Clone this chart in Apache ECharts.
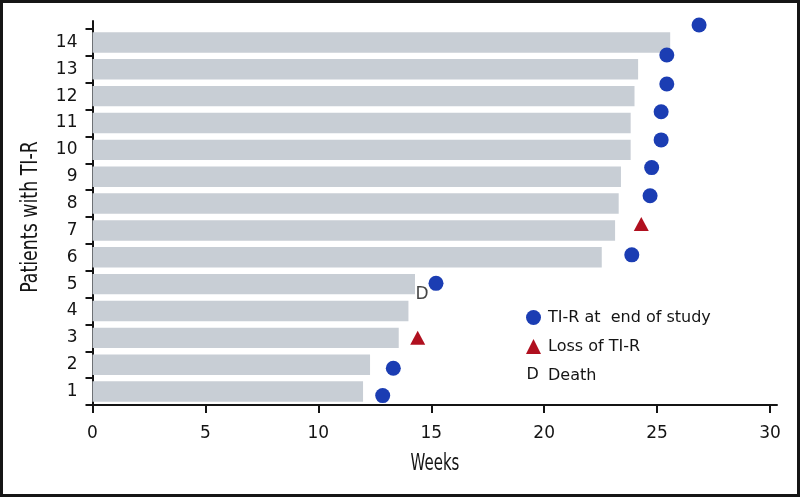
<!DOCTYPE html>
<html>
<head>
<meta charset="utf-8">
<script src="https://cdn.jsdelivr.net/npm/echarts@6/dist/echarts.min.js"></script>
<style>
  html, body { margin: 0; padding: 0; background: #fff; }
  #wrap { position: relative; width: 800px; height: 497px; }
  #chart { position: absolute; left: 0; top: 0; width: 800px; height: 497px; }
  #frame { position: absolute; left: 0; top: 0; width: 800px; height: 497px; box-sizing: border-box; border: 3px solid #161616; pointer-events: none; }
</style>
</head>
<body>
<div id="wrap"><div id="chart"></div><div id="frame"></div></div>
<script>
// ---- data ----
const patients = ['1','2','3','4','5','6','7','8','9','10','11','12','13','14'];
const barWeeks = [11.98, 12.29, 13.56, 13.99, 14.28, 22.55, 23.14, 23.3, 23.4, 23.83, 23.83, 24.0, 24.16, 25.58];

// TI-R at end of study (week, vertical position in patient units)
const endWeeks = [12.85, 13.32, 15.21, 23.88, 24.69, 24.76, 25.18, 25.18, 25.43, 25.43, 26.86];
const endPos   = [0.85, 1.87, 5.03, 6.09, 8.29, 9.34, 10.37, 11.42, 12.45, 13.53, 14.65];

// Loss of TI-R
const lossWeeks = [14.4, 24.3];
const lossPos   = [3.0, 7.24];

// Death
const deathWeeks = [14.59];
const deathPos   = [4.63];

const xTicks = [0, 5, 10, 15, 20, 25, 30];

const seriesNames = ['TI-R at  end of study', 'Loss of TI-R', 'Death'];
const xTitle = 'Weeks';
const yTitle = 'Patients with TI-R';

const toPairs = (xs, ys) => xs.map((x, i) => [x, ys[i]]);

const axisColor = '#141414';
const textColor = '#141414';
const sansFont = 'DejaVu Sans';
const narrowFont = '"DejaVu Sans Condensed", "DejaVu Sans", sans-serif';

const chart = echarts.init(document.getElementById('chart'), null, { renderer: 'canvas' });

chart.setOption({
  animation: false,
  backgroundColor: '#ffffff',
  grid: [
    { left: 92.5, right: 30, top: 29, bottom: 92 },
    { left: 92.5, right: 23, top: 21, bottom: 92 }
  ],
  xAxis: [
    {
      type: 'value', gridIndex: 0, min: 0, max: 30, interval: 5,
      axisLine: { show: false },
      axisTick: { show: true, length: 8, lineStyle: { color: axisColor, width: 2 } },
      axisLabel: { margin: 20, fontSize: 17, color: textColor, fontFamily: sansFont,
                   customValues: xTicks },
      splitLine: { show: false }
    },
    {
      type: 'value', gridIndex: 1, min: 0, max: 1,
      axisLine: { show: true, lineStyle: { color: axisColor, width: 2 } },
      axisTick: { show: false }, axisLabel: { show: false }, splitLine: { show: false }
    }
  ],
  yAxis: [
    {
      type: 'category', gridIndex: 0, data: patients,
      axisLine: { show: false },
      axisTick: { show: true, length: 7, interval: 0, lineStyle: { color: axisColor, width: 2 } },
      axisLabel: { margin: 15, fontSize: 17, color: textColor, fontFamily: sansFont, interval: 0 },
      splitLine: { show: false }
    },
    {
      type: 'value', gridIndex: 0, min: 0.5, max: 14.5, show: false
    },
    {
      type: 'value', gridIndex: 1, min: 0, max: 1,
      axisLine: { show: true, lineStyle: { color: axisColor, width: 2 } },
      axisTick: { show: false }, axisLabel: { show: false }, splitLine: { show: false }
    }
  ],
  legend: {
    orient: 'vertical',
    left: 526, top: 309.5,
    padding: 0,
    itemWidth: 15, itemHeight: 15, itemGap: 13,
    selectedMode: false,
    textStyle: { fontSize: 16, color: textColor, fontFamily: sansFont, padding: [0, 0, 0, 2] },
    data: [
      { name: seriesNames[0], icon: 'circle' },
      { name: seriesNames[1], icon: 'triangle' },
      { name: seriesNames[2], icon: 'none' }
    ]
  },
  graphic: [
    { type: 'text', x: 532.7, y: 375,
      style: { text: 'D', fontSize: 16, fontFamily: sansFont, fill: textColor,
               align: 'center', verticalAlign: 'middle' } },
    { type: 'text', x: 435, y: 464.5, scaleX: 0.74,
      style: { text: xTitle, fontSize: 22.5, fontFamily: narrowFont, fill: textColor,
               align: 'center', verticalAlign: 'middle' } },
    { type: 'text', x: 31, y: 217, rotation: Math.PI / 2, scaleX: 0.86,
      style: { text: yTitle, fontSize: 22.5, fontFamily: narrowFont, fill: textColor,
               align: 'center', verticalAlign: 'middle' } }
  ],
  series: [
    {
      type: 'bar', xAxisIndex: 0, yAxisIndex: 0,
      data: barWeeks,
      barCategoryGap: '24%',
      itemStyle: { color: '#c8ced5' },
      silent: true
    },
    {
      name: seriesNames[0], type: 'scatter', xAxisIndex: 0, yAxisIndex: 1,
      data: toPairs(endWeeks, endPos),
      symbol: 'circle', symbolSize: 15, clip: false,
      itemStyle: { color: '#1b3db3', opacity: 1 }
    },
    {
      name: seriesNames[1], type: 'scatter', xAxisIndex: 0, yAxisIndex: 1,
      data: toPairs(lossWeeks, lossPos),
      symbol: 'triangle', symbolSize: [15, 14], clip: false,
      itemStyle: { color: '#b0101f', opacity: 1 }
    },
    {
      name: seriesNames[2], type: 'scatter', xAxisIndex: 0, yAxisIndex: 1,
      data: toPairs(deathWeeks, deathPos),
      symbol: 'circle', symbolSize: 1, clip: false,
      itemStyle: { color: 'rgba(0,0,0,0)' },
      label: { show: true, position: 'inside', formatter: 'D', fontSize: 17,
               fontFamily: sansFont, color: textColor }
    }
  ]
});
</script>
</body>
</html>
